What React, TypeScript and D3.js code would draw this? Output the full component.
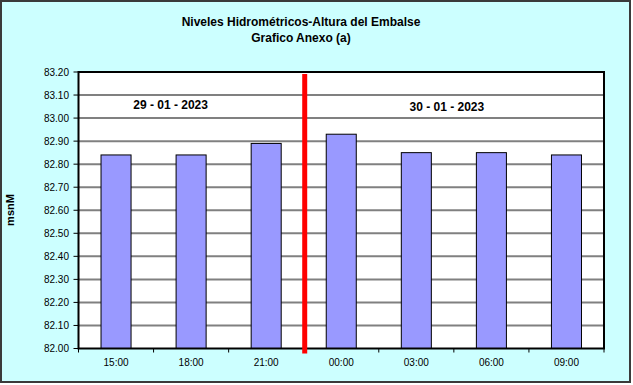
import React from "react";
import * as d3 from "d3";

const categories = ["15:00", "18:00", "21:00", "00:00", "03:00", "06:00", "09:00"];
const values = [82.84, 82.84, 82.89, 82.93, 82.85, 82.85, 82.84];
const yTicks = [82.0, 82.1, 82.2, 82.3, 82.4, 82.5, 82.6, 82.7, 82.8, 82.9, 83.0, 83.1, 83.2];
const dividerBefore = "00:00";
const dateLabels = ["29 - 01 - 2023", "30 - 01 - 2023"];
const titleLines = ["Niveles Hidrométricos-Altura del Embalse", "Grafico Anexo (a)"];
const yLabel = "msnM";

const W = 633;
const H = 385;
const L = 78.5, R = 604, T = 72, B = 348.5;
const FONT = "'Liberation Sans', Arial, sans-serif";

export default function App() {
  const x = d3.scaleBand<string>().domain(categories).range([L, R]).padding(0);
  const y = d3.scaleLinear().domain([82.0, 83.2]).range([B, T]);
  const bw = x.bandwidth();
  const barW = bw * 0.4;
  const divX = (x(dividerBefore) as number) + 1;

  return (
    <svg width={W} height={H} style={{ position: "absolute", left: 0, top: 0 }} fontFamily={FONT}>
      <rect x={1} y={1} width={629} height={381} fill="#CCFFFF" stroke="#3a3a3a" strokeWidth={2} />
      <rect x={L} y={T} width={R - L} height={B - T} fill="#FFFFFF" />
      {titleLines.map((t, i) => (
        <text key={i} x={301} y={26 + i * 16} textAnchor="middle" fontSize={12} fontWeight="bold" fill="#000">
          {t}
        </text>
      ))}
      {yTicks.slice(1, -1).map((v) => (
        <line key={v} x1={L} x2={R} y1={y(v)} y2={y(v)} stroke="#808080" strokeWidth={2} />
      ))}
      {categories.map((c, i) => (
        <rect
          key={c}
          x={(x(c) as number) + (bw - barW) / 2}
          y={y(values[i])}
          width={barW}
          height={B - y(values[i])}
          fill="#9999FF"
          stroke="#000"
          strokeWidth={1}
        />
      ))}
      <rect x={L} y={T} width={R - L} height={B - T} fill="none" stroke="#000" strokeWidth={2} />
      {yTicks.map((v) => (
        <g key={v}>
          <line x1={L - 5} x2={L} y1={y(v)} y2={y(v)} stroke="#000" strokeWidth={1} />
          <text x={69} y={y(v) + 3.5} textAnchor="end" fontSize={10} fill="#000">
            {v.toFixed(2)}
          </text>
        </g>
      ))}
      {categories.map((c) => (
        <line key={c} x1={x(c) as number} x2={x(c) as number} y1={B} y2={B + 4} stroke="#000" strokeWidth={1} />
      ))}
      <line x1={R} x2={R} y1={B} y2={B + 4} stroke="#000" strokeWidth={1} />
      {categories.map((c) => (
        <text key={c} x={(x(c) as number) + bw / 2} y={366} textAnchor="middle" fontSize={10} fill="#000">
          {c}
        </text>
      ))}
      <line x1={divX} x2={divX} y1={T + 2} y2={B + 5} stroke="#FF0000" strokeWidth={5} />
      <text x={(x("18:00") as number) + 17} y={109} textAnchor="middle" fontSize={12} fontWeight="bold" fill="#000">
        {dateLabels[0]}
      </text>
      <text x={(x("06:00") as number) - 7} y={111} textAnchor="middle" fontSize={12} fontWeight="bold" fill="#000">
        {dateLabels[1]}
      </text>
      <text
        transform={`translate(14,210) rotate(-90)`}
        textAnchor="middle"
        fontSize={11}
        fontWeight="bold"
        fill="#000"
      >
        {yLabel}
      </text>
    </svg>
  );
}
